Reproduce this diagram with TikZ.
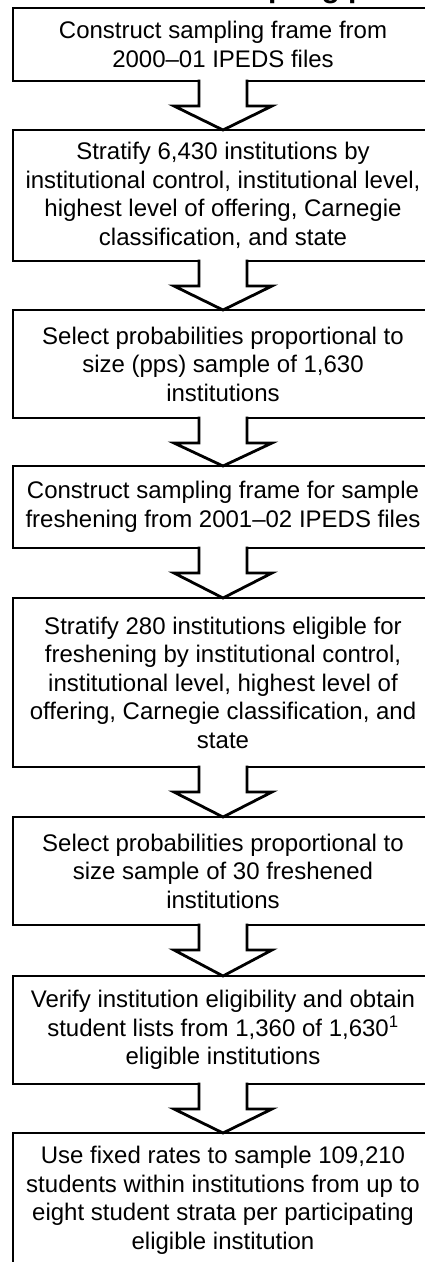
\documentclass[tikz,border=0pt]{standalone}
\usepackage{fontspec}
\setmainfont{Liberation Sans}
\usetikzlibrary{positioning}

\tikzset{
  procbox/.style={draw,line width=2.8pt,outer sep=0pt,minimum width=420pt,
    align=center,font=\fontsize{24}{28.5}\selectfont},
  blockarrow/.style={draw,fill=white,line width=2.8pt,line join=miter}
}

\begin{document}
\begin{tikzpicture}[x=1pt,y=-1pt]
  \useasboundingbox (0,0) rectangle (425,1262);
  \clip (0,0) rectangle (425,1262);

  % title, cut off at the top
  \node[font=\bfseries\fontsize{30}{36}\selectfont,inner sep=0pt,anchor=base west] at (208,-3) (title) {sampling process};

  % steps of the sample
  \node[procbox,minimum height=73pt,anchor=north west] at (13,8) (frame) {Construct sampling frame from\\2000--01 IPEDS files};
  \node[procbox,minimum height=131pt,below=49pt of frame] (strat) {Stratify 6,430 institutions by\\institutional control, institutional level,\\highest level of offering, Carnegie\\classification, and state};
  \node[procbox,minimum height=108pt,below=49pt of strat] (pps) {Select probabilities proportional to\\size (pps) sample of 1,630\\institutions};
  \node[procbox,minimum height=82pt,below=48pt of pps] (freshframe) {Construct sampling frame for sample\\freshening from 2001--02 IPEDS files};
  \node[procbox,minimum height=169pt,below=50pt of freshframe] (freshstrat) {Stratify 280 institutions eligible for\\freshening by institutional control,\\institutional level, highest level of\\offering, Carnegie classification, and\\state};
  \node[procbox,minimum height=108pt,below=50pt of freshstrat] (freshpps) {Select probabilities proportional to\\size sample of 30 freshened\\institutions};
  \node[procbox,minimum height=108pt,below=51pt of freshpps] (verify) {Verify institution eligibility and obtain\\student lists from 1,360 of 1,630\textsuperscript{1}\\eligible institutions};
  \node[procbox,minimum height=135pt,below=49pt of verify] (students) {Use fixed rates to sample 109,210\\students within institutions from up to\\eight student strata per participating\\eligible institution};

  % block arrows from step to step
  \foreach \a/\b in {frame/strat,strat/pps,pps/freshframe,freshframe/freshstrat,freshstrat/freshpps,freshpps/verify,verify/students}
    \filldraw[blockarrow] ([xshift=-24pt,yshift=1.4pt]\a.south) -- ([xshift=-24pt,yshift=-25pt]\a.south)
      -- ([xshift=-49pt,yshift=-25pt]\a.south) -- (\b.north) -- ([xshift=49pt,yshift=-25pt]\a.south)
      -- ([xshift=24pt,yshift=-25pt]\a.south) -- ([xshift=24pt,yshift=1.4pt]\a.south);

\end{tikzpicture}
\end{document}
